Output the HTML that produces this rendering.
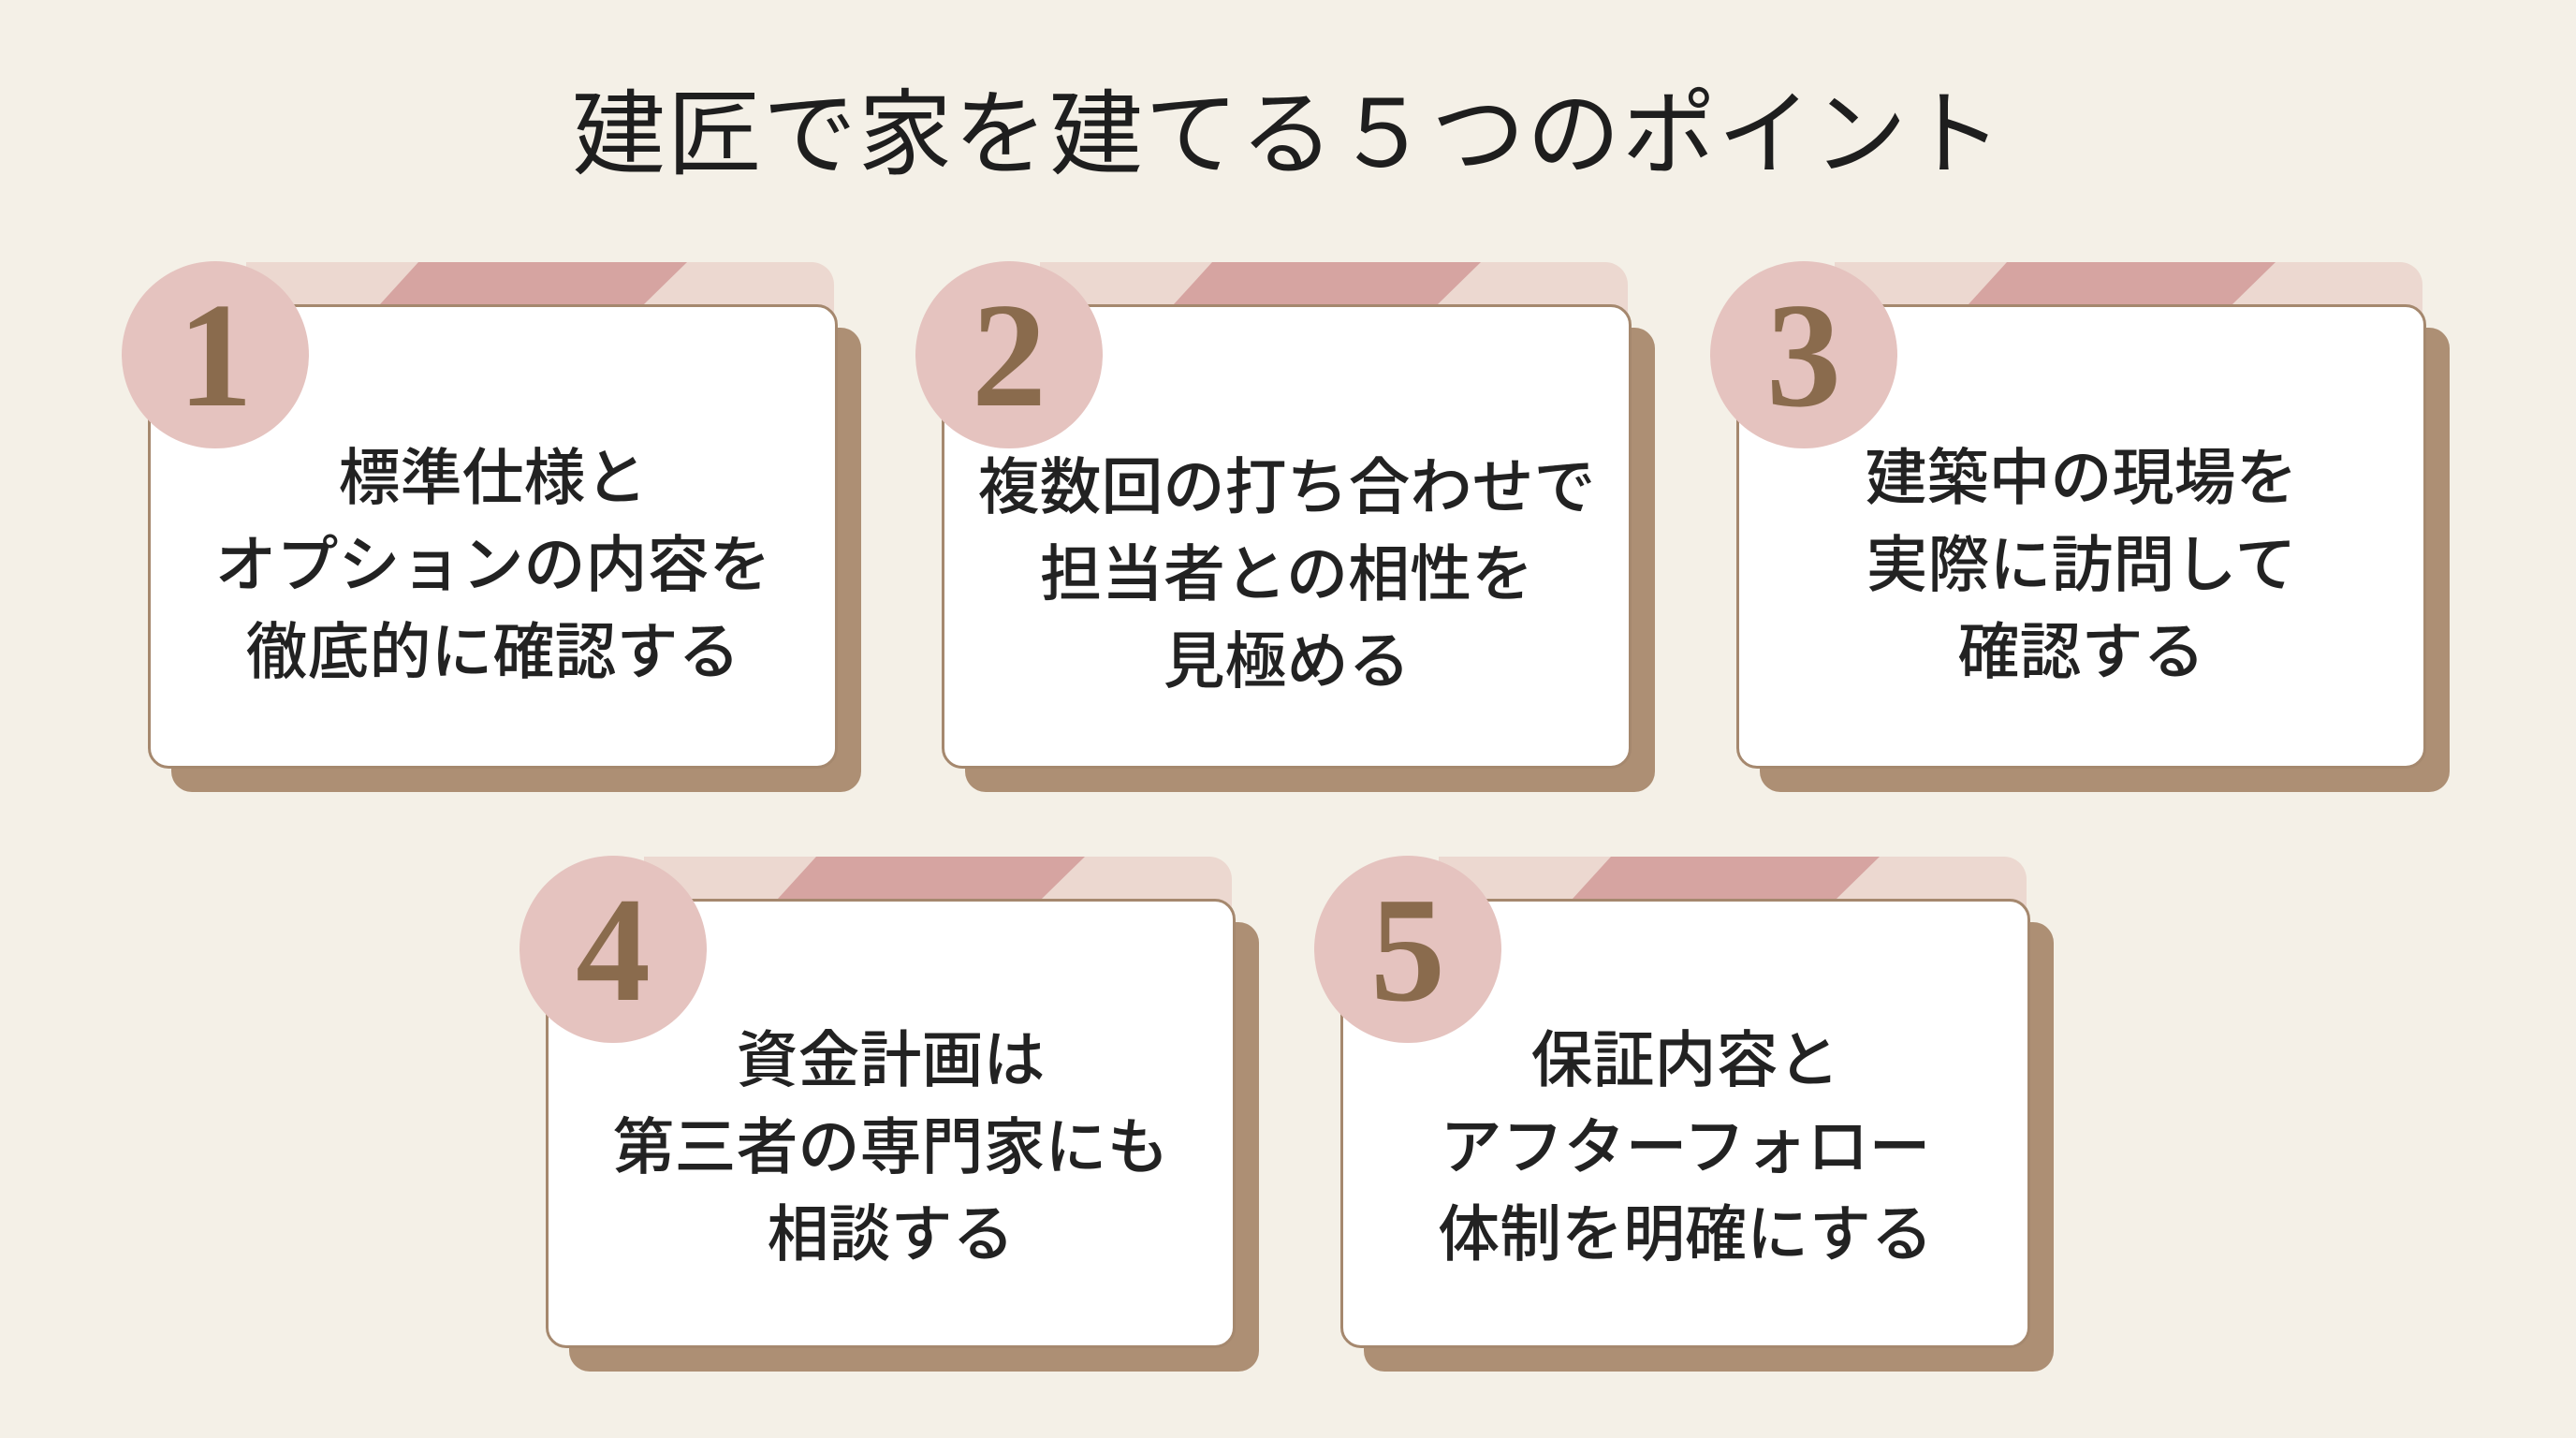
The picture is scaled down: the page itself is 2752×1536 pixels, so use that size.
<!DOCTYPE html>
<html><head><meta charset="utf-8"><style>
html,body{margin:0;padding:0}
body{width:2752px;height:1536px;background:#f4f0e7;position:relative;overflow:hidden;font-family:"Liberation Sans","Noto Sans CJK JP",sans-serif}
.title{position:absolute;left:0;right:0;top:84px;text-align:center;font-size:100px;font-weight:400;color:#1e1e1e;letter-spacing:2px;line-height:120px}
.c{position:absolute;width:737px;height:496px}
.sh{position:absolute;left:25px;top:25px;width:737px;height:100%;background:#ad8f74;border-radius:22px}
.band{position:absolute;left:105px;top:-45px;width:628px;height:70px;background:#ecd8d0;border-radius:0 24px 0 0;overflow:hidden}
.stripe{position:absolute;left:0;top:0;width:628px;height:70px;background:#d6a4a1;clip-path:polygon(184px 0,471px 0,425px 45px,143px 45px)}
.card{position:absolute;left:0;top:0;width:737px;height:100%;box-sizing:border-box;background:#fff;border:3px solid #a5886e;border-radius:22px;display:flex;align-items:center;justify-content:center;padding-top:60px;text-align:center;font-size:66px;line-height:93px;font-weight:500;color:#222}
.circ{position:absolute;left:-28px;top:-46px;width:200px;height:200px;border-radius:50%;background:#e5c3bf;display:flex;align-items:center;justify-content:center;font-family:"Liberation Serif",serif;font-weight:bold;font-size:160px;color:#8a6b4d;line-height:1}
</style></head><body>
<div class="title">建匠で家を建てる５つのポイント</div>

<div class="c" style="left:158px;top:325px"><div class="sh"></div><div class="band"><div class="stripe"></div></div><div class="card">標準仕様と<br>オプションの内容を<br>徹底的に確認する</div><div class="circ">1</div></div>
<div class="c" style="left:1006px;top:325px"><div class="sh"></div><div class="band"><div class="stripe"></div></div><div class="card" style="padding-top:80px">複数回の打ち合わせで<br>担当者との相性を<br>見極める</div><div class="circ">2</div></div>
<div class="c" style="left:1855px;top:325px"><div class="sh"></div><div class="band"><div class="stripe"></div></div><div class="card">建築中の現場を<br>実際に訪問して<br>確認する</div><div class="circ">3</div></div>
<div class="c" style="left:583px;top:960px;height:480px"><div class="sh"></div><div class="band"><div class="stripe"></div></div><div class="card" style="padding-top:50px">資金計画は<br>第三者の専門家にも<br>相談する</div><div class="circ">4</div></div>
<div class="c" style="left:1432px;top:960px;height:480px"><div class="sh"></div><div class="band"><div class="stripe"></div></div><div class="card" style="padding-top:50px">保証内容と<br>アフターフォロー<br>体制を明確にする</div><div class="circ">5</div></div>
</body></html>
